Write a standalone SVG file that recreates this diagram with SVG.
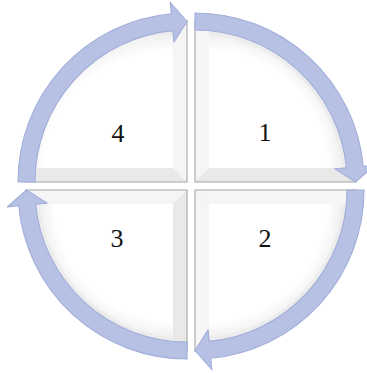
<svg xmlns="http://www.w3.org/2000/svg" width="367" height="373" viewBox="0 0 367 373">
<style>
.base{fill:#ececec}
.lt{fill:#f5f5f5}
.dk{fill:#e9e9e9}
.edge{stroke:#a6a6a6;stroke-width:1.1;fill:none}
.num{font-family:"Liberation Serif","DejaVu Serif",serif;font-size:26px;fill:#111;text-anchor:middle}
.arrow{fill:#b6c1e3;stroke:#a2aedb;stroke-width:1.1;stroke-linejoin:round}
</style>
<defs>
<radialGradient id="f1" cx="0" cy="1" r="1"><stop offset="0.88" stop-color="#ffffff"/><stop offset="1" stop-color="#f0f0f0"/></radialGradient>
<radialGradient id="f2" cx="0" cy="0" r="1"><stop offset="0.88" stop-color="#ffffff"/><stop offset="1" stop-color="#f0f0f0"/></radialGradient>
<radialGradient id="f3" cx="1" cy="0" r="1"><stop offset="0.88" stop-color="#ffffff"/><stop offset="1" stop-color="#f0f0f0"/></radialGradient>
<radialGradient id="f4" cx="1" cy="1" r="1"><stop offset="0.88" stop-color="#ffffff"/><stop offset="1" stop-color="#f0f0f0"/></radialGradient>
</defs>
<rect width="367" height="373" fill="#ffffff"/>

<g id="node-4">
<path class="base" d="M187,182 L25,182 A162,162 0 0 1 187,20 Z"/>
<path fill="url(#f4)" d="M173,168 L25.66,168 A148,148 0 0 1 173,34.66 Z"/>
<polygon class="lt" points="187,182 187,20 173,20 173,168"/>
<polygon class="dk" points="187,182 25,182 25,168 173,168"/>
<polyline class="edge" points="187,20 187,182 25,182"/>
<text class="num" x="118" y="142">4</text>
</g>

<g id="node-1">
<path class="base" d="M195,182 L195,20 A162,162 0 0 1 357,182 Z"/>
<path fill="url(#f1)" d="M209,168 L209,34.66 A148,148 0 0 1 342.34,168 Z"/>
<polygon class="lt" points="195,182 195,20 209,20 209,168"/>
<polygon class="dk" points="195,182 357,182 357,168 209,168"/>
<polyline class="edge" points="195,20 195,182 357,182"/>
<text class="num" x="265" y="141">1</text>
</g>

<g id="node-2">
<path class="base" d="M195,190 L357,190 A162,162 0 0 1 195,352 Z"/>
<path fill="url(#f2)" d="M209,204 L342.34,204 A148,148 0 0 1 209,337.34 Z"/>
<polygon class="lt" points="195,190 357,190 357,204 209,204"/>
<polygon class="lt" points="195,190 195,352 209,352 209,204"/>
<polyline class="edge" points="357,190 195,190 195,352"/>
<text class="num" x="265" y="247">2</text>
</g>

<g id="node-3">
<path class="base" d="M187,190 L187,352 A162,162 0 0 1 25,190 Z"/>
<path fill="url(#f3)" d="M173,204 L173,337.34 A148,148 0 0 1 39.66,204 Z"/>
<polygon class="lt" points="187,190 25,190 25,204 173,204"/>
<polygon class="dk" points="187,190 187,352 173,352 173,204"/>
<polyline class="edge" points="25,190 187,190 187,352"/>
<text class="num" x="117" y="247">3</text>
</g>

<g id="connectors">
<path class="arrow" d="M195,13 A169,169 0 0 1 363.26,166.21 L374.71,165.14 L355.5,182 L334.89,168.87 L346.34,167.8 A152,152 0 0 0 195,30 Z"/>
<path class="arrow" d="M364,190 A169,169 0 0 1 210.79,358.26 L211.86,369.71 L195,350.5 L208.13,329.89 L209.2,341.34 A152,152 0 0 0 347,190 Z"/>
<path class="arrow" d="M187,359 A169,169 0 0 1 18.74,205.79 L7.29,206.86 L26.5,190 L47.11,203.13 L35.66,204.2 A152,152 0 0 0 187,342 Z"/>
<path class="arrow" d="M18,182 A169,169 0 0 1 171.21,13.74 L170.14,2.29 L187,21.5 L173.87,42.11 L172.8,30.66 A152,152 0 0 0 35,182 Z"/>
</g>
</svg>
